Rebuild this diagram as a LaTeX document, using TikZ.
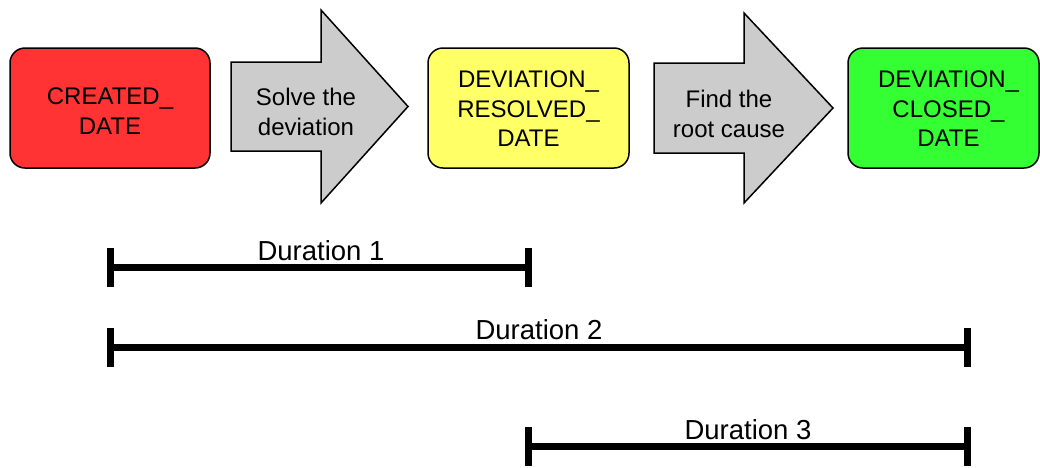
\documentclass[tikz,border=0pt]{standalone}
\usepackage{fontspec}
\setmainfont{Liberation Sans}
\definecolor{boxred}{RGB}{255,51,51}
\definecolor{boxyellow}{RGB}{255,255,102}
\definecolor{boxgreen}{RGB}{51,255,51}
\definecolor{arrowgrey}{RGB}{204,204,204}
\begin{document}
\begin{tikzpicture}[x=1pt,y=-1pt,
  datebox/.style={draw=black,line width=1.5pt,rounded corners=15pt},
  boxtext/.style={align=center,font=\fontsize{24}{29.5}\selectfont,inner sep=0pt},
  steparrow/.style={draw=black,line width=1.5pt,fill=arrowgrey,line join=miter},
  durlabel/.style={anchor=base,font=\fontsize{27.5}{30}\selectfont,inner sep=0pt},
  barline/.style={line width=7pt},
  tickline/.style={line width=7pt}]
\useasboundingbox (0,0) rectangle (1040,467);
\fill[white] (0,0) rectangle (1040,467);
% boxes
\draw[datebox,fill=boxred] (10,48) rectangle (210,168);
\node[boxtext] (created) at (110,111) {CREATED\_\\DATE};
\draw[datebox,fill=boxyellow] (428,48) rectangle (629,168);
\node[boxtext] (resolved) at (528.5,109) {DEVIATION\_\\RESOLVED\_\\DATE};
\begin{scope}
\clip (0,0) rectangle (1040,467);
\draw[datebox,fill=boxgreen] (848,48) rectangle (1039,168);
\end{scope}
\node[boxtext] (closed) at (948.5,109) {DEVIATION\_\\CLOSED\_\\DATE};
% arrows
\draw[steparrow] (231,62) -- (321,62) -- (321,10) -- (408,106.5) -- (321,203) -- (321,151) -- (231,151) -- cycle;
\node[boxtext] (solve) at (306,112) {Solve the\\deviation};
\draw[steparrow] (654,63) -- (744,63) -- (744,13) -- (833,108) -- (744,203) -- (744,153) -- (654,153) -- cycle;
\node[boxtext] (find) at (729,114) {Find the\\root cause};
% duration bars
\coordinate (d1s) at (110,267);
\coordinate (d1e) at (528,267);
\coordinate (d2s) at (110,347);
\coordinate (d2e) at (967,347);
\coordinate (d3s) at (528,446);
\coordinate (d3e) at (967,446);
\foreach \a/\b in {d1s/d1e,d2s/d2e,d3s/d3e}{
  \draw[barline] (\a) -- (\b);
  \draw[tickline] ([yshift=-19.5pt]\a) -- ([yshift=19.5pt]\a);
  \draw[tickline] ([yshift=-19.5pt]\b) -- ([yshift=19.5pt]\b);
}
\node[durlabel] (dur1) at (321,260) {Duration 1};
\node[durlabel] (dur2) at (539,339) {Duration 2};
\node[durlabel] (dur3) at (748,439) {Duration 3};
\end{tikzpicture}
\end{document}
